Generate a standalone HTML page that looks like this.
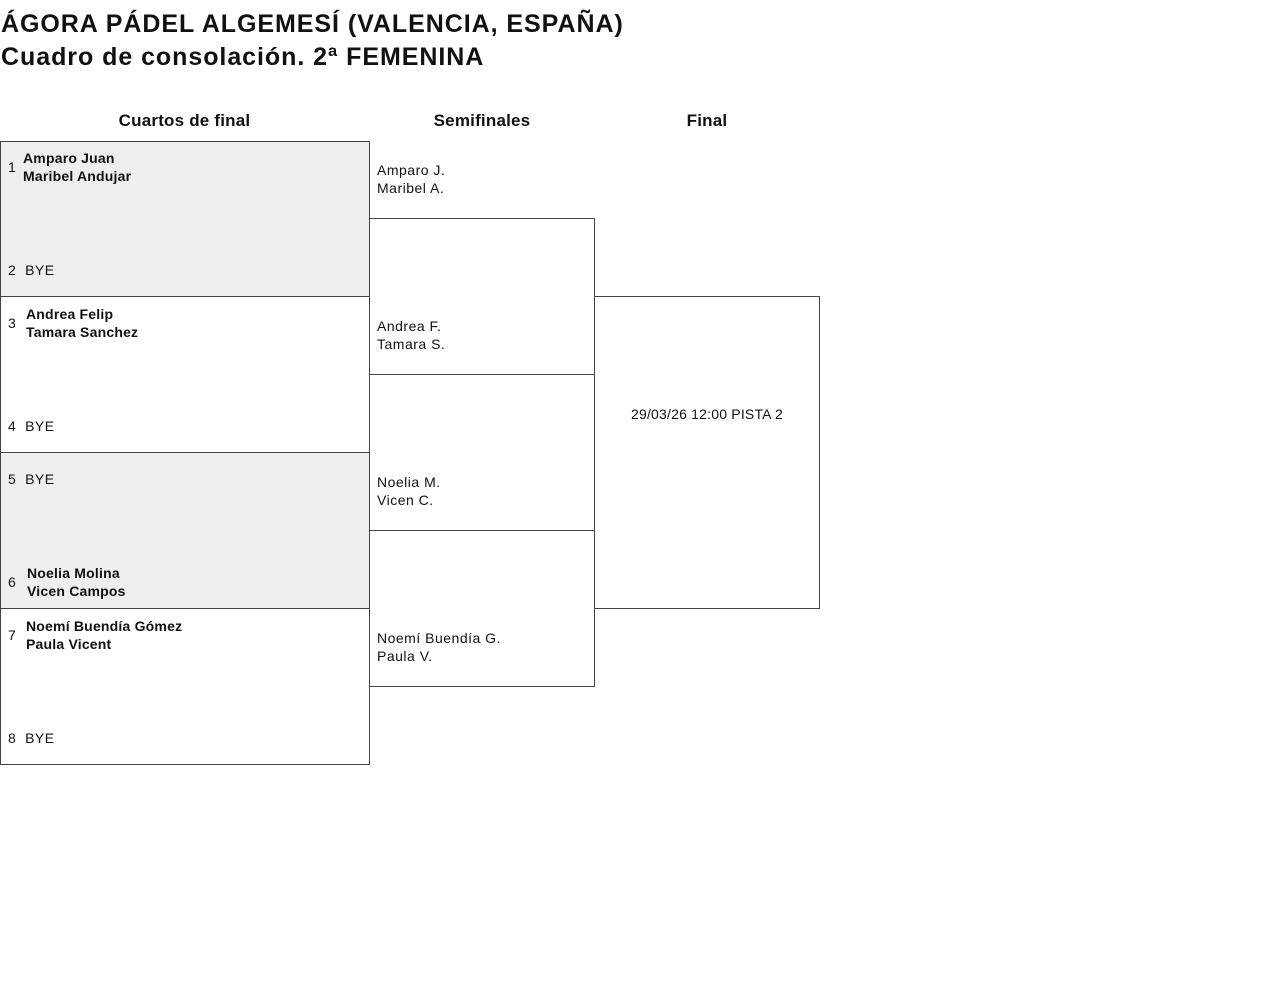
<!DOCTYPE html>
<html><head><meta charset="utf-8"><style>
body{margin:0;width:1280px;height:982px;background:#fff;font-family:"Liberation Sans",sans-serif;color:#111;position:relative;overflow:hidden}
.a{position:absolute;white-space:nowrap}
.t{font-size:25px;font-weight:bold;left:1px;letter-spacing:0.95px}
.h{font-size:17px;font-weight:bold;top:111px;text-align:center;letter-spacing:0.2px}
.box{position:absolute;border:1px solid #444;box-sizing:border-box}
.g{background:#eee}
.s{font-size:14px;line-height:18px;letter-spacing:0.5px}
.b{font-weight:bold;letter-spacing:0.2px}
</style></head><body>
<div class="a t" style="top:10px">ÁGORA PÁDEL ALGEMESÍ (VALENCIA, ESPAÑA)</div>
<div class="a t" style="top:43px">Cuadro de consolación. 2ª FEMENINA</div>
<div class="a h" style="left:0;width:369px">Cuartos de final</div>
<div class="a h" style="left:369px;width:226px">Semifinales</div>
<div class="a h" style="left:594px;width:226px">Final</div>

<div class="box g" style="left:0;top:141px;width:370px;height:156px"></div>
<div class="box" style="left:0;top:296px;width:370px;height:157px"></div>
<div class="box g" style="left:0;top:452px;width:370px;height:157px"></div>
<div class="box" style="left:0;top:608px;width:370px;height:157px"></div>
<div class="box" style="left:369px;top:218px;width:226px;height:157px"></div>
<div class="box" style="left:369px;top:530px;width:226px;height:157px"></div>
<div class="box" style="left:594px;top:296px;width:226px;height:313px"></div>

<div class="a s" style="left:8px;top:158px">1</div>
<div class="a s b" style="left:23px;top:149px">Amparo Juan<br>Maribel Andujar</div>
<div class="a s" style="left:8px;top:261px">2&nbsp; BYE</div>
<div class="a s" style="left:8px;top:314px">3</div>
<div class="a s b" style="left:26px;top:305px">Andrea Felip<br>Tamara Sanchez</div>
<div class="a s" style="left:8px;top:417px">4&nbsp; BYE</div>
<div class="a s" style="left:8px;top:470px">5&nbsp; BYE</div>
<div class="a s" style="left:8px;top:573px">6</div>
<div class="a s b" style="left:27px;top:564px">Noelia Molina<br>Vicen Campos</div>
<div class="a s" style="left:8px;top:626px">7</div>
<div class="a s b" style="left:26px;top:617px">Noemí Buendía Gómez<br>Paula Vicent</div>
<div class="a s" style="left:8px;top:729px">8&nbsp; BYE</div>

<div class="a s" style="left:377px;top:161px">Amparo J.<br>Maribel A.</div>
<div class="a s" style="left:377px;top:317px">Andrea F.<br>Tamara S.</div>
<div class="a s" style="left:377px;top:473px">Noelia M.<br>Vicen C.</div>
<div class="a s" style="left:377px;top:629px">Noemí Buendía G.<br>Paula V.</div>
<div class="a s" style="left:594px;width:226px;text-align:center;top:405px;letter-spacing:0.2px">29/03/26 12:00 PISTA 2</div>
</body></html>
